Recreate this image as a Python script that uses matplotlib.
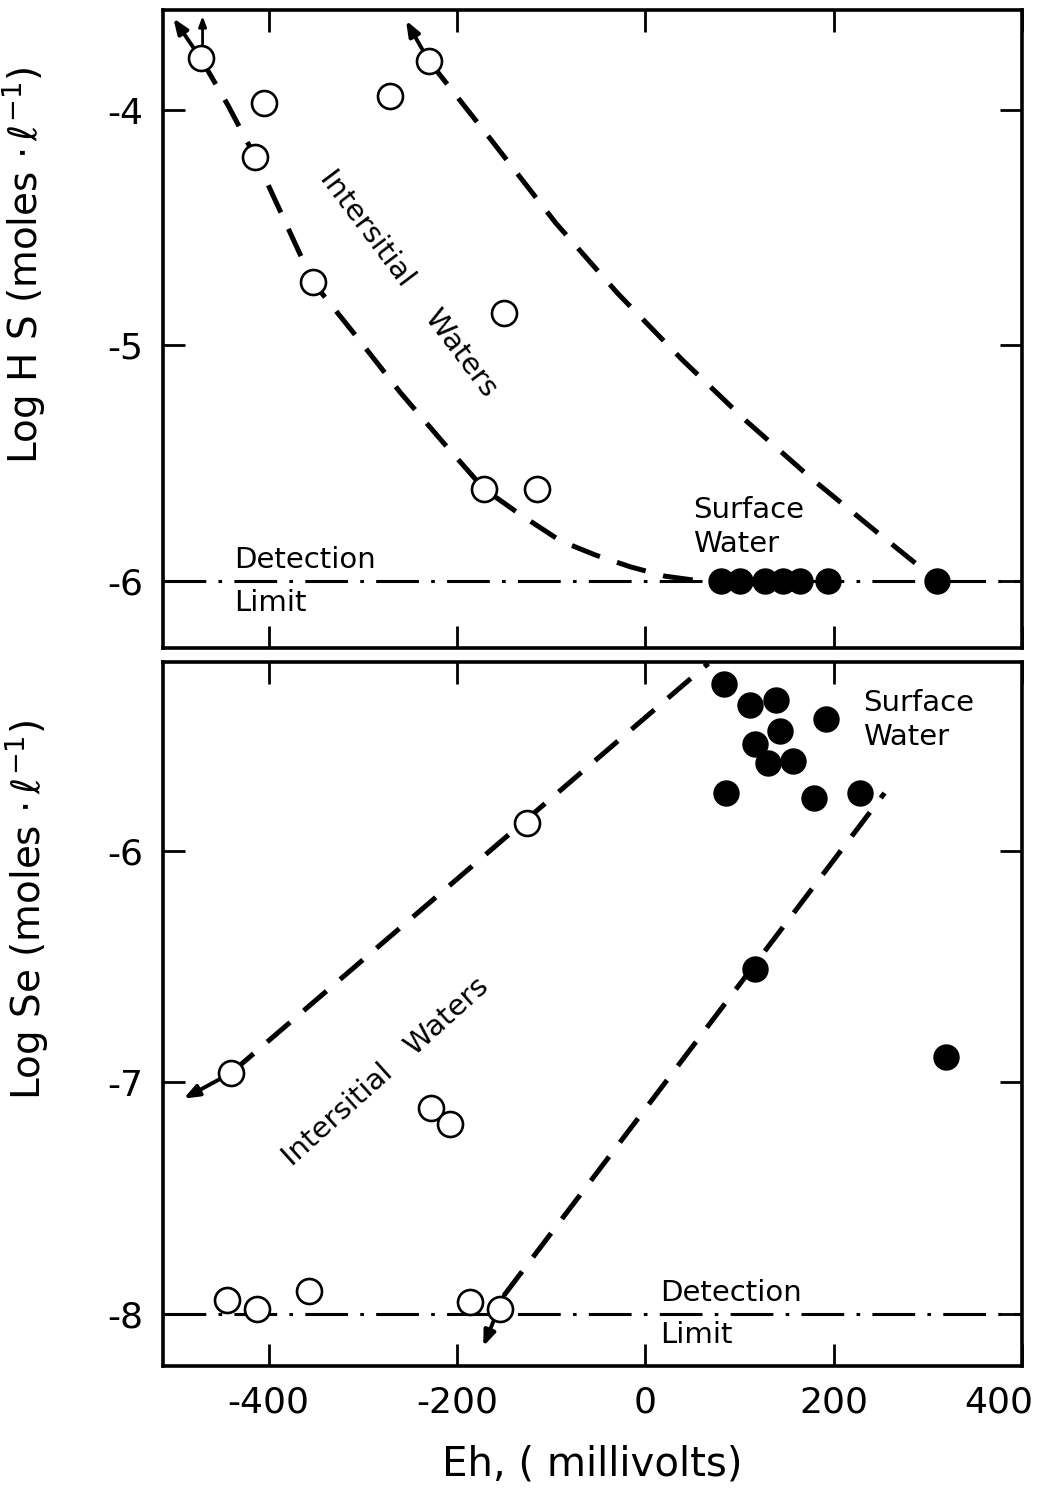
import numpy as np
import matplotlib
matplotlib.use("Agg")
import matplotlib.pyplot as plt
import matplotlib.transforms as mtransforms

plt.rcParams['font.family'] = ['DejaVu Sans']
plt.rcParams['axes.unicode_minus'] = False
plt.rcParams['mathtext.fontset'] = 'dejavusans'

# ---- data: top panel (log H2S vs Eh) ----
hs_open_x = [-472, -405, -414, -353, -271, -230, -150, -171, -115]
hs_open_y = [-3.78, -3.97, -4.20, -4.73, -3.94, -3.79, -4.86, -5.61, -5.61]
hs_fill_x = [80, 101, 127, 146, 164, 194, 310]
hs_fill_y = [-6.0, -6.0, -6.0, -6.0, -6.0, -6.0, -6.0]

# hand-drawn trend curves (top), read along the dashes
hs_left_x = [-472, -443, -414, -384, -353, -307, -260, -215, -171, -132, -90, -53, -16, 21, 58]
hs_left_y = [-3.78, -3.98, -4.20, -4.46, -4.73, -4.96, -5.20, -5.41, -5.61, -5.72, -5.83,
             -5.89, -5.94, -5.98, -6.0]
hs_right_x = [-230, -163, -95, -29, 39, 107, 175, 242, 310]
hs_right_y = [-3.79, -4.13, -4.48, -4.78, -5.06, -5.32, -5.56, -5.78, -6.0]

# ---- data: bottom panel (log Se vs Eh) ----
se_open_x = [-126, -440, -228, -207, -444, -412, -357, -186, -154]
se_open_y = [-5.88, -6.96, -7.11, -7.18, -7.94, -7.98, -7.90, -7.95, -7.98]
se_fill_x = [84, 111, 139, 143, 192, 116, 130, 157, 86, 179, 228, 116, 319]
se_fill_y = [-5.28, -5.37, -5.35, -5.48, -5.43, -5.54, -5.62, -5.61, -5.75,
             -5.77, -5.75, -6.51, -6.89]

se_lineA_x = [-440, 67]
se_lineA_y = [-6.96, -5.19]
se_lineB_x = [-150, 254]
se_lineB_y = [-7.92, -5.75]

detect_hs = -6.0
detect_se = -8.0

fig = plt.figure(figsize=(10.53, 14.9), dpi=100)
ax1 = fig.add_axes([0.1548, 0.5651, 0.8158, 0.4282])
ax2 = fig.add_axes([0.1548, 0.0832, 0.8158, 0.4725])

dash = dict(color='k', lw=3.6, dashes=(6, 3.6), solid_capstyle='butt')
dashdot = dict(color='k', lw=2.2, dashes=(14, 4, 1.2, 4))
openm = dict(ls='none', marker='o', ms=18, mfc='white', mec='k', mew=1.9, zorder=5)
fillm = dict(ls='none', marker='o', ms=18, mfc='k', mec='k', zorder=5)
arrow = dict(arrowstyle='-|>,head_length=0.9,head_width=0.35', lw=2.8, color='k',
             shrinkA=0, shrinkB=0)

xlim = (-512, 400)

for ax in (ax1, ax2):
    ax.set_xlim(*xlim)
    ax.set_xticks([-400, -200, 0, 200, 400])
    ax.tick_params(direction='in', length=16, width=2, top=True, right=True,
                   labelsize=26, pad=14)
    for s in ax.spines.values():
        s.set_linewidth(2.6)

# top panel
ax1.set_ylim(-6.285, -3.575)
ax1.set_yticks([-4, -5, -6])
ax1.tick_params(labelbottom=False)
ax1.axhline(detect_hs, **dashdot)
ax1.plot(hs_left_x, hs_left_y, **dash)
ax1.plot(hs_right_x, hs_right_y, **dash)
ax1.plot(hs_open_x, hs_open_y, **openm)
ax1.plot(hs_fill_x, hs_fill_y, **fillm)
ax1.annotate('', xy=(-501, -3.61), xytext=(hs_left_x[0], hs_left_y[0]), arrowprops=arrow)
ax1.annotate('', xy=(-254, -3.62), xytext=(hs_right_x[0], hs_right_y[0]), arrowprops=arrow)
ax1.annotate('', xy=(-470, -3.60), xytext=(-470, -3.72),
             arrowprops=dict(arrowstyle='-|>,head_length=0.6,head_width=0.22', lw=2,
                             color='k', shrinkA=0, shrinkB=0))
ax1.text(-251, -4.735, 'Intersitial    Waters', rotation=-53, fontsize=21,
         ha='center', va='center')
ax1.text(51, -5.77, 'Surface\nWater', fontsize=21, ha='left', va='center',
         linespacing=1.25)
ax1.text(-437, -5.91, 'Detection', fontsize=21, ha='left', va='center')
ax1.text(-437, -6.093, 'Limit', fontsize=21, ha='left', va='center')
ax1.set_ylabel(r'Log H S (moles $\cdot\,\ell^{-1}$)', fontsize=28)
ax1.yaxis.set_label_coords(-0.135, 0.60)

# bottom panel
ax2.set_ylim(-8.225, -5.184)
ax2.set_yticks([-6, -7, -8])
ax2.axhline(detect_se, **dashdot)
ax2.plot(se_lineA_x, se_lineA_y, **dash)
ax2.plot(se_lineB_x, se_lineB_y, **dash)
ax2.plot(se_open_x, se_open_y, **openm)
ax2.plot(se_fill_x, se_fill_y, **fillm)
ax2.annotate('', xy=(-490, -7.07), xytext=(se_lineA_x[0], se_lineA_y[0]), arrowprops=arrow)
ax2.annotate('', xy=(-172, -8.14), xytext=(se_lineB_x[0], se_lineB_y[0]), arrowprops=arrow)
ax2.text(-276, -6.955, 'Intersitial   Waters', rotation=42, fontsize=21,
         ha='center', va='center')
ax2.text(231, -5.434, 'Surface\nWater', fontsize=21, ha='left', va='center',
         linespacing=1.25)
ax2.text(16, -7.909, 'Detection', fontsize=21, ha='left', va='center')
ax2.text(16, -8.091, 'Limit', fontsize=21, ha='left', va='center')
ax2.set_ylabel(r'Log Se (moles $\cdot\,\ell^{-1}$)', fontsize=28)
ax2.yaxis.set_label_coords(-0.132, 0.648)
ax2.set_xlabel('Eh, ( millivolts)', fontsize=29)
ax2.xaxis.set_label_coords(0.5, -0.14)
ax2.xaxis.label.set_va('center')

# keep the last tick label ("400") inside the figure
last = ax2.get_xticklabels()[-1]
last.set_horizontalalignment('right')
last.set_transform(last.get_transform() +
                   mtransforms.ScaledTranslation(8 / 72, 0, fig.dpi_scale_trans))

fig.savefig('out.png', dpi=100)
